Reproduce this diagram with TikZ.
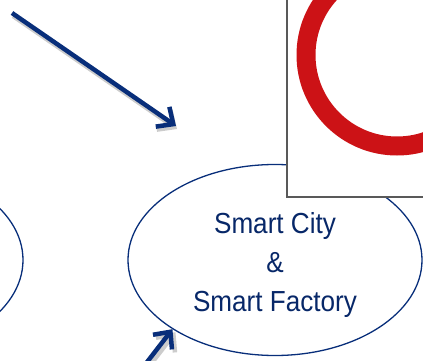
\documentclass[tikz,border=0pt]{standalone}
\usepackage{fontspec}
\newfontfamily\cityfont[FakeStretch=0.9]{Liberation Sans}
\usetikzlibrary{shapes.geometric,arrows.meta}
\definecolor{navy}{RGB}{8,46,122}
\definecolor{ringred}{RGB}{204,18,22}

\begin{document}
\begin{tikzpicture}[x=1pt,y=-1pt,
    bigarrow/.style={navy, line width=4.5pt, -{Straight Barb[length=13pt,width=24pt]}},
    arrowshadow/.style={bigarrow, gray!40},
    bubble/.style={ellipse, draw=navy, line width=1.3pt, minimum width=294pt, minimum height=191pt}]
      \useasboundingbox (0,0) rectangle (423,361) ;
      \clip (0,0) rectangle (423,361) ;
      % the two bubbles
      \node[bubble] (city) at (275,260) {} ;
      \node[bubble] (left) at (-124,260) {} ;
      \node[navy!85!black, font=\cityfont\fontsize{29}{39}\selectfont, align=center] %
      (citytext) at (275,265) {Smart City\\\&\\Smart Factory} ;
      % picture in the corner
      \draw[draw=gray!70!black, line width=1.2pt, fill=white] (287,-10) rectangle (440,197) ;
      \draw[ringred, line width=19pt] (397,55) circle (91) ;
      % arrows
      \coordinate (a1) at (12,13) ;
      \coordinate (a1tip) at (176,126) ;
      \coordinate (b1) at (124,392) ;
      \draw[arrowshadow] ([shift={(1,3)}]a1) -- ([shift={(1,3)}]a1tip) ;
      \draw[bigarrow] (a1) -- (a1tip) ;
      \draw[arrowshadow] ([shift={(3,3)}]b1) -- ([shift={(3,3)}]city.214) ;
      \draw[bigarrow] (b1) -- (city.214) ;
    \end{tikzpicture}
\end{document}
